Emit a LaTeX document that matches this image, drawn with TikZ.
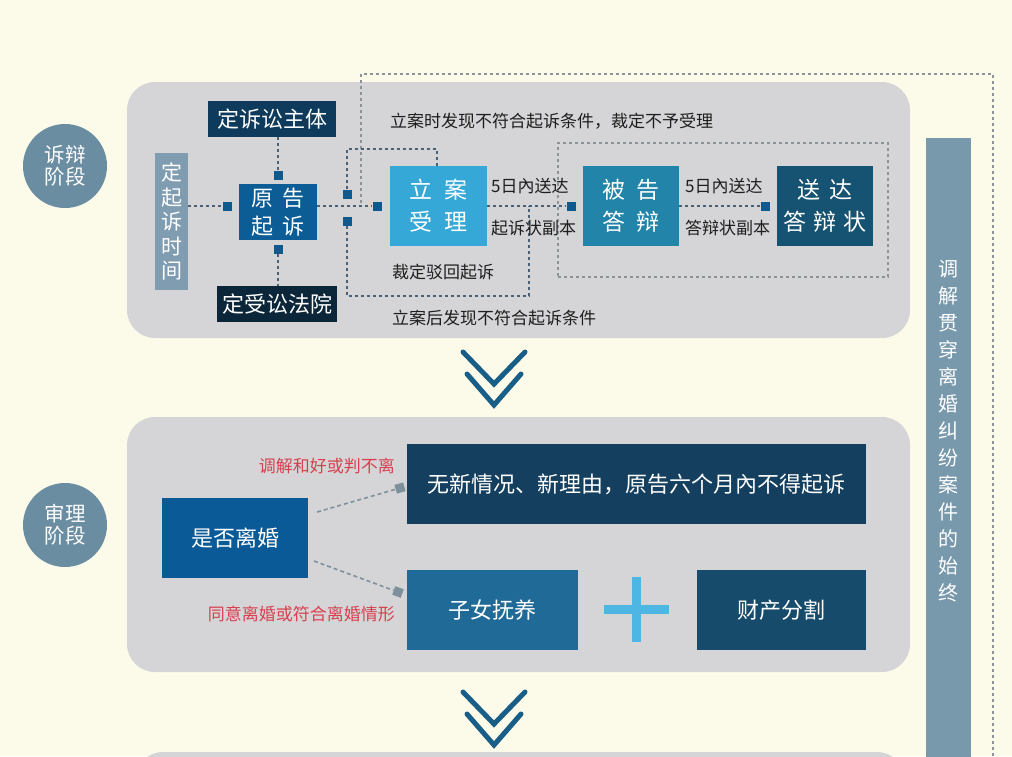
\documentclass[tikz,border=0pt]{standalone}
\usepackage{fontspec}
\setmainfont{Noto Sans CJK SC}
\definecolor{bgc}{HTML}{FCFBEA}
\definecolor{panelc}{HTML}{D5D5D7}
\definecolor{circc}{HTML}{6A8DA2}
\definecolor{barc}{HTML}{7898AC}
\definecolor{cA}{HTML}{0E3B5C}
\definecolor{cB}{HTML}{0B2638}
\definecolor{cC}{HTML}{7F9CB0}
\definecolor{cD}{HTML}{0C5D96}
\definecolor{cE}{HTML}{35A8D8}
\definecolor{cF}{HTML}{2184A8}
\definecolor{cG}{HTML}{165272}
\definecolor{cH}{HTML}{0B5A98}
\definecolor{cI}{HTML}{143F5F}
\definecolor{cJ}{HTML}{1F6A97}
\definecolor{cK}{HTML}{164B6C}
\definecolor{plusc}{HTML}{4DB6E2}
\definecolor{redc}{HTML}{D8404F}
\definecolor{sqc}{HTML}{0E5A8E}
\definecolor{gsqc}{HTML}{7E909C}
\definecolor{chevc}{HTML}{185E87}
\definecolor{txtc}{HTML}{1E1E1E}
\definecolor{dlc}{HTML}{4A6278}
\definecolor{olc}{HTML}{8C949A}
\begin{document}
\begin{tikzpicture}[x=1pt,y=-1pt,
  box/.style={rectangle, inner sep=0pt, text=white, font=\fontsize{22}{28}\selectfont, align=center},
  sqm/.style={rectangle, fill=sqc, minimum size=9pt, inner sep=0pt},
  gsq/.style={rectangle, fill=gsqc, minimum size=9pt, inner sep=0pt},
  lbl/.style={font=\fontsize{17}{19}\selectfont, text=txtc, inner sep=0pt},
  redlbl/.style={font=\fontsize{17}{19}\selectfont, text=redc, inner sep=0pt},
  dl/.style={dash pattern=on 3pt off 3pt, line width=1.4pt, draw=dlc},
  ol/.style={dash pattern=on 3pt off 3pt, line width=1.1pt, draw=olc},
  gl/.style={dash pattern=on 4pt off 3pt, line width=1.6pt, draw=gsqc},
  chev/.style={draw=chevc, line width=5pt, line cap=round, line join=miter},
  panel/.style={fill=panelc, rounded corners=28pt},
  stage/.style={circle, fill=circc, minimum size=84pt, inner sep=0pt, text=white, align=center, font=\fontsize{20.5}{22}\selectfont}
]
\useasboundingbox (0,0) rectangle (1012,756);
\clip (0,0) rectangle (1012,756);
\fill[bgc] (0,0) rectangle (1012,756);

% panels
\fill[panel] (127,82) rectangle (910,338);
\fill[panel] (127,417) rectangle (910,672);
\fill[panel] (135,752) rectangle (905,900);

% stage circles
\node[stage] (st1) at (65,166) {诉辩\\阶段};
\node[stage] (st2) at (65,525) {审理\\阶段};

% right bar
\fill[barc] (926,138) rectangle (971,760);
\node[text=white, align=center, inner sep=0pt, font=\fontsize{20}{27}\selectfont] (bartxt) at (948.5,431)
  {调\\解\\贯\\穿\\离\\婚\\纠\\纷\\案\\件\\的\\始\\终};

% outer dashed frame
\coordinate (o1) at (361,203);
\coordinate (o2) at (361,74);
\coordinate (o3) at (993,74);
\coordinate (o4) at (993,760);
\draw[ol] (o1) -- (o2) -- (o3) -- (o4);

% inner dashed group
\node[draw=olc, dash pattern=on 3pt off 3pt, line width=1.1pt, minimum width=330pt, minimum height=134pt, inner sep=0pt] (grp) at (723,210) {};

% stage 1 boxes
\node[box, fill=cA, minimum width=128pt, minimum height=36pt] (stz) at (272,119) {定诉讼主体};
\node[box, fill=cB, minimum width=120pt, minimum height=36pt] (sfy) at (277,304) {定受讼法院};
\node[box, fill=cC, minimum width=33pt, minimum height=137pt, font=\fontsize{21}{24.5}\selectfont] (qsj) at (171.5,221.5) {定\\起\\诉\\时\\间};
\node[box, fill=cD, minimum width=78pt, minimum height=56pt, font=\fontsize{22}{28}\selectfont] (ygqs) at (278,212) {原\hspace{9pt}告\\起\hspace{9pt}诉};
\node[box, fill=cE, minimum width=97pt, minimum height=80pt, font=\fontsize{23}{32}\selectfont] (lasl) at (438.5,206) {立\hspace{12pt}案\\受\hspace{12pt}理};
\node[box, fill=cF, minimum width=96pt, minimum height=80pt, font=\fontsize{23}{32}\selectfont] (bgdb) at (631,206) {被\hspace{12pt}告\\答\hspace{12pt}辩};
\node[box, fill=cG, minimum width=96pt, minimum height=80pt, font=\fontsize{23}{32}\selectfont] (sddbz) at (825,206) {送\hspace{9pt}达\\答\hspace{7pt}辩\hspace{7pt}状};

% squares
\node[sqm] (sqT) at (278,175) {};
\node[sqm] (sqB) at (278,249) {};
\node[sqm] (sqL) at (227,206) {};
\node[sqm] (sqU) at (347,194) {};
\node[sqm] (sqD) at (347,221) {};
\node[sqm] (sqR) at (377,206) {};
\node[sqm] (sqS) at (571,206) {};
\node[sqm] (sqV) at (765,206) {};

% connectors stage 1
\draw[dl] (stz.south -| sqT) -- (sqT.north);
\draw[dl] (sqB.south) -- (sqB |- sfy.north);
\draw[dl] (qsj.east |- sqL) -- (sqL.west);
\draw[dl] (ygqs.east |- sqR) -- (sqR.west);
\coordinate (u1) at (347,149);
\coordinate (u2) at (437,149);
\draw[dl] (sqU.north) -- (u1) -- (u2) -- (u2 |- lasl.north);
\coordinate (d1) at (347,296);
\coordinate (d2) at (529,296);
\draw[dl] (sqD.south) -- (d1) -- (d2) -- (d2 |- lasl.east);
\draw[dl] (lasl.east) -- (sqS.west);
\draw[dl] (bgdb.east) -- (sqV.west);

% labels stage 1
\node[lbl, anchor=west] (t1) at (390,121) {立案时发现不符合起诉条件，裁定不予受理};
\node[lbl, anchor=west] (t2) at (392,272) {裁定驳回起诉};
\node[lbl, anchor=west] (t3) at (392,318) {立案后发现不符合起诉条件};
\node[lbl, anchor=west] (t4) at (491,186) {5日內送达};
\node[lbl, anchor=west] (t5) at (491,228) {起诉状副本};
\node[lbl, anchor=west] (t6) at (685,186) {5日內送达};
\node[lbl, anchor=west] (t7) at (685,228) {答辩状副本};

% chevrons
\draw[chev] (463,352) -- (494,384) -- (525,352);
\draw[chev] (467,374) -- (494,405) -- (521,374);
\draw[chev] (463,692) -- (494,724) -- (525,692);
\draw[chev] (467,714) -- (494,745) -- (521,714);

% stage 2
\node[box, fill=cH, minimum width=146pt, minimum height=80pt] (sf) at (235,538) {是否离婚};
\node[box, fill=cI, minimum width=459pt, minimum height=80pt] (wx) at (636.5,484) {无新情况、新理由，原告六个月內不得起诉};
\node[box, fill=cJ, minimum width=171pt, minimum height=80pt] (zn) at (492.5,610) {子女抚养};
\node[box, fill=cK, minimum width=169pt, minimum height=80pt] (cc) at (781.5,610) {财产分割};
\draw[plusc, line width=9pt] (604,609) -- (669,609);
\draw[plusc, line width=9pt] (636,577) -- (636,642);

\node[gsq, rotate=16] (g1) at (400,488) {};
\node[gsq, rotate=-20] (g2) at (398,592) {};
\coordinate (a1) at (317,512);
\coordinate (a2) at (314,561);
\draw[gl] (a1) -- (g1);
\draw[gl] (a2) -- (g2);
\node[redlbl, anchor=east] (r1) at (395,466) {调解和好或判不离};
\node[redlbl, anchor=east] (r2) at (395,614) {同意离婚或符合离婚情形};
\end{tikzpicture}
\end{document}
